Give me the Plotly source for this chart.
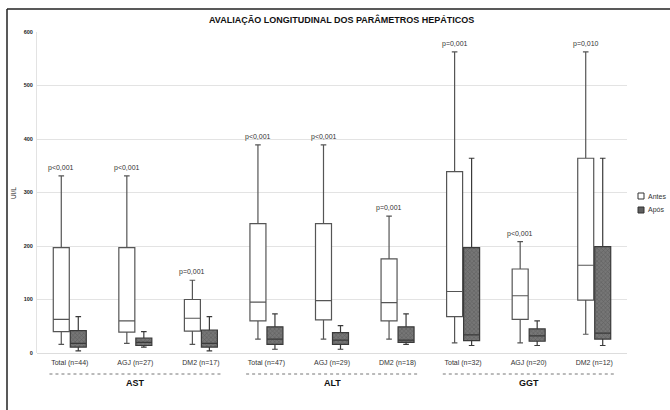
import plotly.graph_objects as go

categories = ["Total (n=44)", "AGJ (n=27)", "DM2 (n=17)",
              "Total (n=47)", "AGJ (n=29)", "DM2 (n=18)",
              "Total (n=32)", "AGJ (n=20)", "DM2 (n=12)"]
groups = ["AST", "ALT", "GGT"]
series_names = ["Antes", "Após"]

# Antes (before)
antes_low = [16, 18, 16, 26, 26, 26, 19, 19, 35]
antes_q1 = [40, 39, 41, 60, 62, 60, 68, 63, 99]
antes_med = [63, 60, 65, 95, 98, 94, 115, 107, 164]
antes_q3 = [197, 197, 100, 242, 242, 176, 339, 157, 364]
antes_high = [331, 331, 136, 389, 389, 256, 563, 208, 563]

# Após (after)
apos_low = [4, 11, 4, 7, 7, 16, 14, 14, 14]
apos_q1 = [11, 14, 11, 16, 16, 20, 23, 22, 26]
apos_med = [18, 20, 18, 26, 24, 24, 34, 32, 37]
apos_q3 = [42, 28, 43, 49, 38, 49, 197, 45, 199]
apos_high = [68, 40, 68, 73, 51, 73, 364, 60, 364]

p_labels = ["p<0,001", "p<0,001", "p=0,001",
            "p<0,001", "p<0,001", "p=0,001",
            "p=0,001", "p<0,001", "p=0,010"]

FONT = "Liberation Sans, Arial, sans-serif"

# geometry helpers (pixels of the 670x410 canvas)
L, R, T, B = 37, 43, 32, 57
PW, PH = 670 - L - R, 410 - T - B
def px(x):
    return (x - L) / PW
def py(y):
    return (410 - B - y) / PH

SLOT = PW / len(categories)
BOX_W = 16 / SLOT          # box width in category units
BOX_OFF = 8.5 / SLOT       # half-distance between paired boxes

idx = list(range(len(categories)))
x_antes = [i - BOX_OFF for i in idx]
x_apos = [i + BOX_OFF for i in idx]

fig = go.Figure()

# hatched texture under the "Após" boxes
fig.add_trace(go.Bar(
    x=x_apos, base=apos_q1,
    y=[h - l for h, l in zip(apos_q3, apos_q1)],
    width=BOX_W,
    marker=dict(color="#707070", line=dict(width=0),
                pattern=dict(shape="x", size=3, solidity=0.35,
                             fgcolor="#474747", bgcolor="#767676")),
    showlegend=False, hoverinfo="skip",
))

fig.add_trace(go.Box(
    name=series_names[0], x=x_antes,
    lowerfence=antes_low, q1=antes_q1, median=antes_med, q3=antes_q3,
    upperfence=antes_high, width=BOX_W,
    fillcolor="white", line=dict(color="#555555", width=1.2),
    whiskerwidth=0.35, boxpoints=False, showlegend=False,
))
fig.add_trace(go.Box(
    name=series_names[1], x=x_apos,
    lowerfence=apos_low, q1=apos_q1, median=apos_med, q3=apos_q3,
    upperfence=apos_high, width=BOX_W,
    fillcolor="rgba(0,0,0,0)", line=dict(color="#3a3a3a", width=1.2),
    whiskerwidth=0.35, boxpoints=False, showlegend=False,
))

annotations = []
for i in idx:
    annotations.append(dict(
        x=x_antes[i], y=antes_high[i], xref="x", yref="y", text=p_labels[i],
        showarrow=False, yshift=8, yanchor="middle",
        font=dict(family=FONT, size=7, color="#333333"),
    ))

shapes = []
for g, name in enumerate(groups):
    c = g * 3 + 1
    shapes.append(dict(
        type="line", xref="x", yref="paper",
        x0=c - 1.31, x1=c + 1.31, y0=py(374), y1=py(374),
        line=dict(color="#777777", width=1, dash="dot"),
    ))
    annotations.append(dict(
        x=c, y=py(383), xref="x", yref="paper", text="<b>%s</b>" % name,
        showarrow=False, yanchor="middle",
        font=dict(family=FONT, size=9, color="#111111"),
    ))

# outer frame (left + top)
shapes.append(dict(type="line", xref="paper", yref="paper",
                   x0=px(7), x1=px(7), y0=py(9), y1=py(420),
                   line=dict(color="#222222", width=1.5)))
shapes.append(dict(type="line", xref="paper", yref="paper",
                   x0=px(7), x1=px(680), y0=py(9), y1=py(9),
                   line=dict(color="#222222", width=1.5)))

# manual legend
legend_fill = ["white", "#5f5f5f"]
legend_y = [196, 210]
for name, fill, yy in zip(series_names, legend_fill, legend_y):
    shapes.append(dict(type="rect", xref="paper", yref="paper",
                       x0=px(638), x1=px(644), y0=py(yy + 3), y1=py(yy - 3),
                       fillcolor=fill, line=dict(color="#333333", width=1)))
    annotations.append(dict(
        x=px(646), y=py(yy), xref="paper", yref="paper", text=name,
        showarrow=False, xanchor="left", yanchor="middle",
        font=dict(family=FONT, size=7, color="#333333"),
    ))

annotations.append(dict(
    x=px(14), y=py(193), xref="paper", yref="paper", text="UI/L",
    textangle=-90, showarrow=False, xanchor="center",
    font=dict(family=FONT, size=6.5, color="#333333"),
))
annotations.append(dict(
    x=px(341), y=py(19), xref="paper", yref="paper",
    text="<b>AVALIAÇÃO LONGITUDINAL DOS PARÂMETROS HEPÁTICOS</b>",
    showarrow=False, yanchor="middle",
    font=dict(family=FONT, size=9, color="#111111"),
))

fig.update_layout(
    width=670, height=410,
    margin=dict(l=L, r=R, t=T, b=B),
    paper_bgcolor="white", plot_bgcolor="white",
    boxmode="overlay", barmode="overlay",
    showlegend=False,
    annotations=annotations,
    shapes=shapes,
)
fig.update_xaxes(
    range=[-0.5, len(categories) - 0.5],
    tickmode="array", tickvals=idx, ticktext=categories,
    showgrid=False, zeroline=False, ticks="", showline=False,
    ticklabelstandoff=4,
    tickfont=dict(family=FONT, size=7, color="#333333"),
)
fig.update_yaxes(
    range=[0, 600], dtick=100, showgrid=True, gridcolor="#e3e3e3",
    gridwidth=1, zeroline=True, zerolinecolor="#dddddd", zerolinewidth=1,
    showline=True, linecolor="#e3e3e3", linewidth=1, ticks="",
    ticklabelstandoff=2,
    tickfont=dict(family=FONT, size=5.5, color="#222222"),
    tickprefix="<b>", ticksuffix="</b>",
)

fig.write_html(
    "out.html",
    config={"displayModeBar": False},
    post_script="document.body.style.margin='0px';document.body.style.overflow='hidden';",
)
